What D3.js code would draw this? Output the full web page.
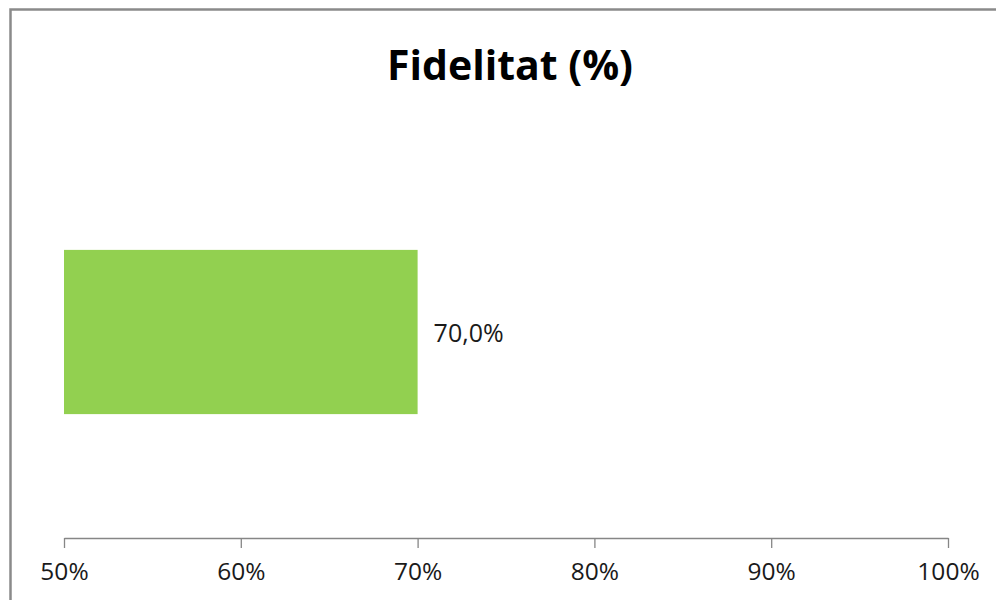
<!DOCTYPE html>
<html>
<head>
<meta charset="utf-8">
<script src="https://cdn.jsdelivr.net/npm/d3@7"></script>
<style>
  body { margin: 0; background: #fff; }
  text { font-family: "Open Sans", sans-serif; }
</style>
</head>
<body>
<svg width="996" height="600"></svg>
<script>
var categories = ["Fidelitat"];
var values = [70.0];
var tickValues = [50, 60, 70, 80, 90, 100];
var title = "Fidelitat (%)";

var svg = d3.select("svg"),
    margin = { top: 126, right: 48, bottom: 62, left: 64 },
    width = 996 - margin.left - margin.right,
    height = 600 - margin.top - margin.bottom;

// chart border, runs off the bottom/right edge like the original
svg.append("rect")
    .attr("x", 10.5).attr("y", 9.5)
    .attr("width", 1000).attr("height", 620)
    .attr("fill", "#fff")
    .attr("stroke", "#8a8a8a")
    .attr("stroke-width", 2.5);

svg.append("text")
    .attr("x", 510).attr("y", 80)
    .attr("text-anchor", "middle")
    .attr("font-size", 41)
    .attr("font-weight", "bold")
    .attr("fill", "#000")
    .text(title);

var g = svg.append("g")
    .attr("transform", "translate(" + margin.left + "," + margin.top + ")");

var x = d3.scaleLinear().domain([50, 100]).range([0, 884]);
var y = d3.scaleBand().domain(categories).range([0, height]).padding(0.43);

g.selectAll(".bar")
    .data(values)
    .enter()
    .append("rect")
    .attr("class", "bar")
    .attr("x", x(50))
    .attr("y", (d, i) => y(categories[i]))
    .attr("width", d => x(d) - x(50))
    .attr("height", y.bandwidth())
    .attr("fill", "#92d050");

g.selectAll(".label")
    .data(values)
    .enter()
    .append("text")
    .attr("class", "label")
    .attr("x", d => x(d) + 16)
    .attr("y", (d, i) => y(categories[i]) + y.bandwidth() / 2 + 10)
    .attr("font-size", 25)
    .attr("fill", "#1a1a1a")
    .text(d => d.toFixed(1).replace(".", ",") + "%");

var axis = g.append("g")
    .attr("transform", "translate(0," + height + ")")
    .call(d3.axisBottom(x)
        .tickValues(tickValues)
        .tickSize(10)
        .tickSizeOuter(0)
        .tickPadding(15)
        .tickFormat(d => d + "%"));

axis.select(".domain").attr("stroke", "#868686").attr("stroke-width", 1.3);
axis.selectAll(".tick line").attr("stroke", "#868686").attr("stroke-width", 1.3);
axis.selectAll(".tick text")
    .attr("font-size", 24.5)
    .attr("font-family", "Open Sans, sans-serif")
    .attr("fill", "#1a1a1a");
</script>
</body>
</html>
